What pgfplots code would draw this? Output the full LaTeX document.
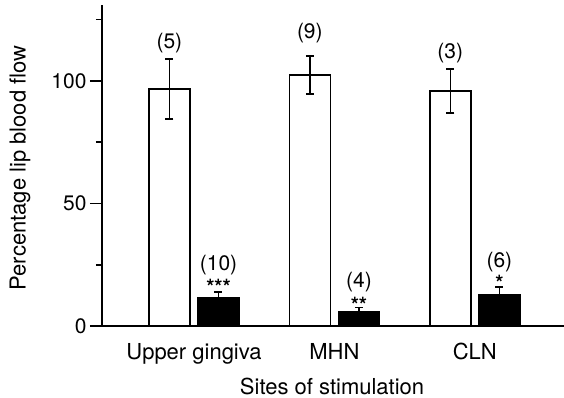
\documentclass[border=0pt]{standalone}
\usepackage{pgfplots}
\pgfplotsset{compat=1.18}
\usepackage{fontspec}
\setmainfont{TeX Gyre Heros}
\newcommand{\tickf}{\fontsize{21}{25}\selectfont}
\newcommand{\labf}{\fontsize{22}{26}\selectfont}
\begin{document}
\begin{tikzpicture}
\useasboundingbox (0,0) rectangle (564pt,398pt);
\begin{axis}[
  at={(102pt,72pt)}, anchor=south west,
  scale only axis, width=462pt, height=321pt,
  xmin=-0.655, xmax=2.635, ymin=0, ymax=131,
  axis x line=bottom, axis y line=left,
  axis line style={-, line width=1.6pt},
  ybar, bar width=41pt,
  xtick={0,1,2}, xticklabels={Upper gingiva,MHN,CLN},
  xtick style={draw=none},
  ytick={0,50,100}, minor ytick={25,75,125},
  tick align=outside,
  major tick length=12pt, minor tick length=6pt,
  every tick/.style={line width=1.6pt, black},
  ytick style={line width=1.6pt},
  minor tick style={line width=1.6pt},
  yticklabel style={font=\tickf},
  xticklabel style={font=\labf, yshift=-2pt},
  /pgf/number format/assume math mode=true,
  xlabel={Sites of stimulation},
  ylabel={Percentage lip blood flow},
  label style={font=\labf},
  xlabel style={at={(rel axis cs:0.498,0)}, anchor=base, yshift=-68pt},
  ylabel style={at={(axis description cs:-0.1775,0.492)}, anchor=center},
  clip=false,
]
\addplot[fill=white, draw=black, line width=1.5pt, bar shift=-24.5pt,
  error bars/.cd, y dir=both, y explicit,
  error bar style={line width=1.5pt},
  error mark options={rotate=90, mark size=4pt, line width=1.5pt}]
  coordinates {(0,96.7) +- (0,12.3) (1,102.4) +- (0,7.7) (2,95.9) +- (0,8.9)};
\addplot[fill=black, draw=black, line width=1.5pt, bar shift=24.5pt,
  error bars/.cd, y dir=plus, y explicit,
  error bar style={line width=1.5pt},
  error mark options={rotate=90, mark size=4pt, line width=1.5pt}]
  coordinates {(0,11.4) +- (0,2.5) (1,5.7) +- (0,1.9) (2,12.6) +- (0,3.4)};
\node[font=\tickf] at (axis cs:-0.175,115.5) {(5)};
\node[font=\tickf] at (axis cs:0.825,119.6) {(9)};
\node[font=\tickf] at (axis cs:1.825,111.4) {(3)};
\node[font=\tickf] at (axis cs:0.175,24.9) {(10)};
\node[font=\tickf] at (axis cs:1.175,18.0) {(4)};
\node[font=\tickf] at (axis cs:2.175,26.1) {(6)};
\node[font=\tickf\bfseries] at (axis cs:0.175,16.0) {***};
\node[font=\tickf\bfseries] at (axis cs:1.175,8.6) {**};
\node[font=\tickf\bfseries] at (axis cs:2.175,17.6) {*};
\end{axis}
\end{tikzpicture}
\end{document}
